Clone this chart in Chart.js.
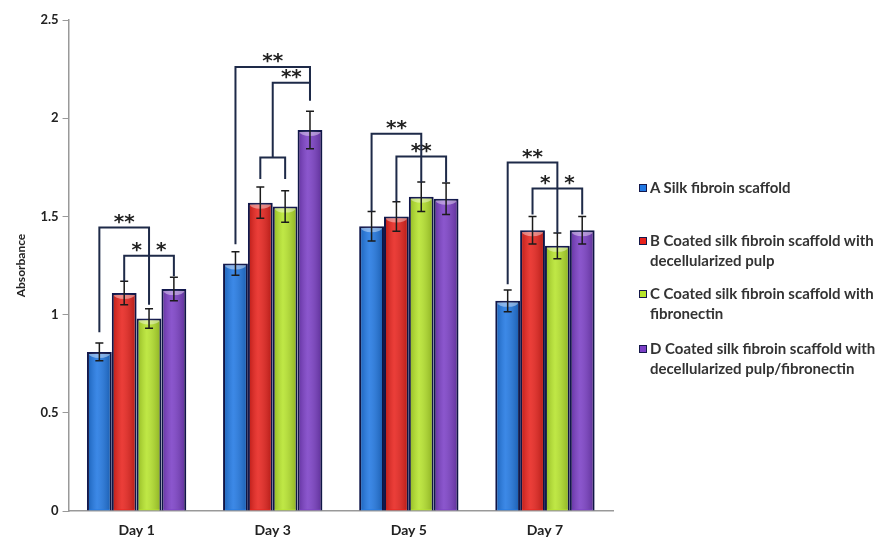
<!DOCTYPE html>
<html>
<head>
<meta charset="utf-8">
<script src="https://cdn.jsdelivr.net/npm/chart.js@4.4.0/dist/chart.umd.min.js"></script>
<style>
  html, body { margin: 0; padding: 0; background: #fff; }
  #wrap { position: relative; width: 881px; height: 541px; }
  #legend { position: absolute; left: 639px; top: 0; font: bold 15px Lato, sans-serif; color: #333; }
  .item { position: absolute; left: 0; width: 250px; padding-left: 11px; line-height: 20px; white-space: nowrap; }
  .swatch { position: absolute; left: 0; top: 7px; width: 6px; height: 6px; border: 1px solid #14184a; }
</style>
</head>
<body>
<div id="wrap">
  <canvas id="absChart" width="881" height="541"></canvas>
  <div id="legend"></div>
</div>
<script>
// categories and series
const days = ['Day 1', 'Day 3', 'Day 5', 'Day 7'];
const seriesNames = [
  ['A Silk fibroin scaffold'],
  ['B Coated silk fibroin scaffold with', 'decellularized pulp'],
  ['C Coated silk fibroin scaffold with', 'fibronectin'],
  ['D Coated silk fibroin scaffold with', 'decellularized pulp/fibronectin']
];
const seriesA = [0.81, 1.26, 1.45, 1.07];
const seriesB = [1.11, 1.57, 1.50, 1.43];
const seriesC = [0.98, 1.55, 1.60, 1.35];
const seriesD = [1.13, 1.94, 1.59, 1.43];
const errA = [0.045, 0.06, 0.075, 0.055];
const errB = [0.06, 0.08, 0.075, 0.07];
const errC = [0.05, 0.08, 0.075, 0.065];
const errD = [0.06, 0.095, 0.08, 0.07];
const yTicks = [0, 0.5, 1, 1.5, 2, 2.5];

// significance brackets: [day, from series, to series, bracket level, left leg end, right leg end, label]
const brackets = [
  [0, 0, 2, 1.444, 0.91, 1.05, '**'],
  [0, 1, 3, 1.30, 1.17, 1.195, '*  *'],
  [1, 0, 3, 2.261, 1.358, 2.09, '**'],
  [1, 1.5, 3, 2.18, 1.80, 2.09, '**'],
  [1, 1, 2, 1.80, 1.69, 1.69, ''],
  [2, 0, 2, 1.921, 1.525, 1.672, '**'],
  [2, 1, 3, 1.805, 1.576, 1.672, '**'],
  [3, 0, 2, 1.774, 1.155, 1.414, '**'],
  [3, 1, 3, 1.642, 1.51, 1.51, '*  *']
];

const colors = ['#2178e3', '#e8231d', '#b6e42c', '#7b3fc6'];
const values = [seriesA, seriesB, seriesC, seriesD];
const errors = [errA, errB, errC, errD];

// legend in html so the labels can wrap like the original
const legendTops = [177, 230, 283, 338];
const legend = document.getElementById('legend');
seriesNames.forEach((lines, i) => {
  const item = document.createElement('div');
  item.className = 'item';
  item.style.top = legendTops[i] + 'px';
  item.innerHTML = '<span class="swatch" style="background:' + colors[i] + '"></span>' + lines.join('<br>');
  legend.appendChild(item);
});

function barX(chart, day, s) {
  const lo = Math.floor(s), hi = Math.ceil(s);
  const a = chart.getDatasetMeta(lo).data[day].x;
  const b = chart.getDatasetMeta(hi).data[day].x;
  return a + (b - a) * (s - lo);
}

const annotations = {
  id: 'annotations',
  afterDatasetsDraw(chart) {
    const ctx = chart.ctx;
    const y = chart.scales.y;
    ctx.save();
    // a little shine on the bars, like the office-style original
    values.forEach((vals, i) => {
      chart.getDatasetMeta(i).data.forEach(bar => {
        const { x, y: top, base, width } = bar.getProps(['x', 'y', 'base', 'width'], true);
        const l = x - width / 2 + 1, r = x + width / 2 - 1;
        const g = ctx.createLinearGradient(l, 0, r, 0);
        g.addColorStop(0, 'rgba(0,0,0,0.18)');
        g.addColorStop(0.4, 'rgba(255,255,255,0.12)');
        g.addColorStop(1, 'rgba(0,0,0,0.22)');
        ctx.fillStyle = g;
        ctx.fillRect(l, top + 1, r - l, base - top - 2);
        ctx.fillStyle = 'rgba(255,255,255,0.4)';
        ctx.beginPath();
        ctx.ellipse(x, top + 2, (r - l) / 2 - 1, 4, 0, 0, Math.PI);
        ctx.fill();
      });
    });
    // error bars
    ctx.strokeStyle = '#1b1b1b';
    ctx.lineWidth = 1.5;
    values.forEach((vals, i) => {
      chart.getDatasetMeta(i).data.forEach((bar, j) => {
        const top = y.getPixelForValue(vals[j] + errors[i][j]);
        const bot = y.getPixelForValue(vals[j] - errors[i][j]);
        ctx.beginPath();
        ctx.moveTo(bar.x, top); ctx.lineTo(bar.x, bot);
        ctx.moveTo(bar.x - 4, top); ctx.lineTo(bar.x + 4, top);
        ctx.moveTo(bar.x - 4, bot); ctx.lineTo(bar.x + 4, bot);
        ctx.stroke();
      });
    });
    // brackets
    ctx.strokeStyle = '#1e2a48';
    ctx.lineWidth = 2;
    ctx.fillStyle = '#222';
    ctx.font = 'bold 20px "DejaVu Sans"';
    ctx.textAlign = 'center';
    ctx.textBaseline = 'middle';
    brackets.forEach(([day, from, to, level, leftEnd, rightEnd, label]) => {
      const x1 = barX(chart, day, from), x2 = barX(chart, day, to);
      const yl = y.getPixelForValue(level);
      ctx.beginPath();
      ctx.moveTo(x1, y.getPixelForValue(leftEnd));
      ctx.lineTo(x1, yl);
      ctx.lineTo(x2, yl);
      ctx.lineTo(x2, y.getPixelForValue(rightEnd));
      ctx.stroke();
      if (label) ctx.fillText(label, (x1 + x2) / 2, yl - 5);
    });
    ctx.restore();
  }
};

new Chart(document.getElementById('absChart'), {
  type: 'bar',
  data: {
    labels: days,
    datasets: values.map((vals, i) => ({
      label: seriesNames[i].join(' '),
      data: vals,
      backgroundColor: colors[i],
      borderColor: '#12184e',
      borderWidth: 2,
      barPercentage: 1,
      categoryPercentage: 0.73
    }))
  },
  options: {
    responsive: false,
    animation: false,
    layout: { padding: { left: 14, right: 268, top: 20, bottom: 2 } },
    plugins: {
      legend: { display: false },
      tooltip: { enabled: false }
    },
    scales: {
      y: {
        min: 0,
        max: 2.5,
        afterBuildTicks: axis => { axis.ticks = yTicks.map(v => ({ value: v })); },
        grid: { drawOnChartArea: false, tickLength: 6, color: '#999' },
        border: { color: '#999', width: 1.5 },
        ticks: { color: '#222', font: { family: 'Lato', size: 13, weight: 'bold' }, padding: 4, callback: v => String(v) },
        title: { display: true, text: 'Absorbance', color: '#222', font: { family: 'Lato', size: 12, weight: 'bold' }, padding: { top: 0, bottom: 8 } }
      },
      x: {
        grid: { display: false, drawTicks: false, tickLength: 0 },
        border: { color: '#999', width: 1.5 },
        ticks: { color: '#222', font: { family: 'Lato', size: 14, weight: 'bold' }, padding: 11 },
        afterFit: scale => { scale.height = 28; }
      }
    }
  },
  plugins: [annotations]
});
</script>
</body>
</html>
